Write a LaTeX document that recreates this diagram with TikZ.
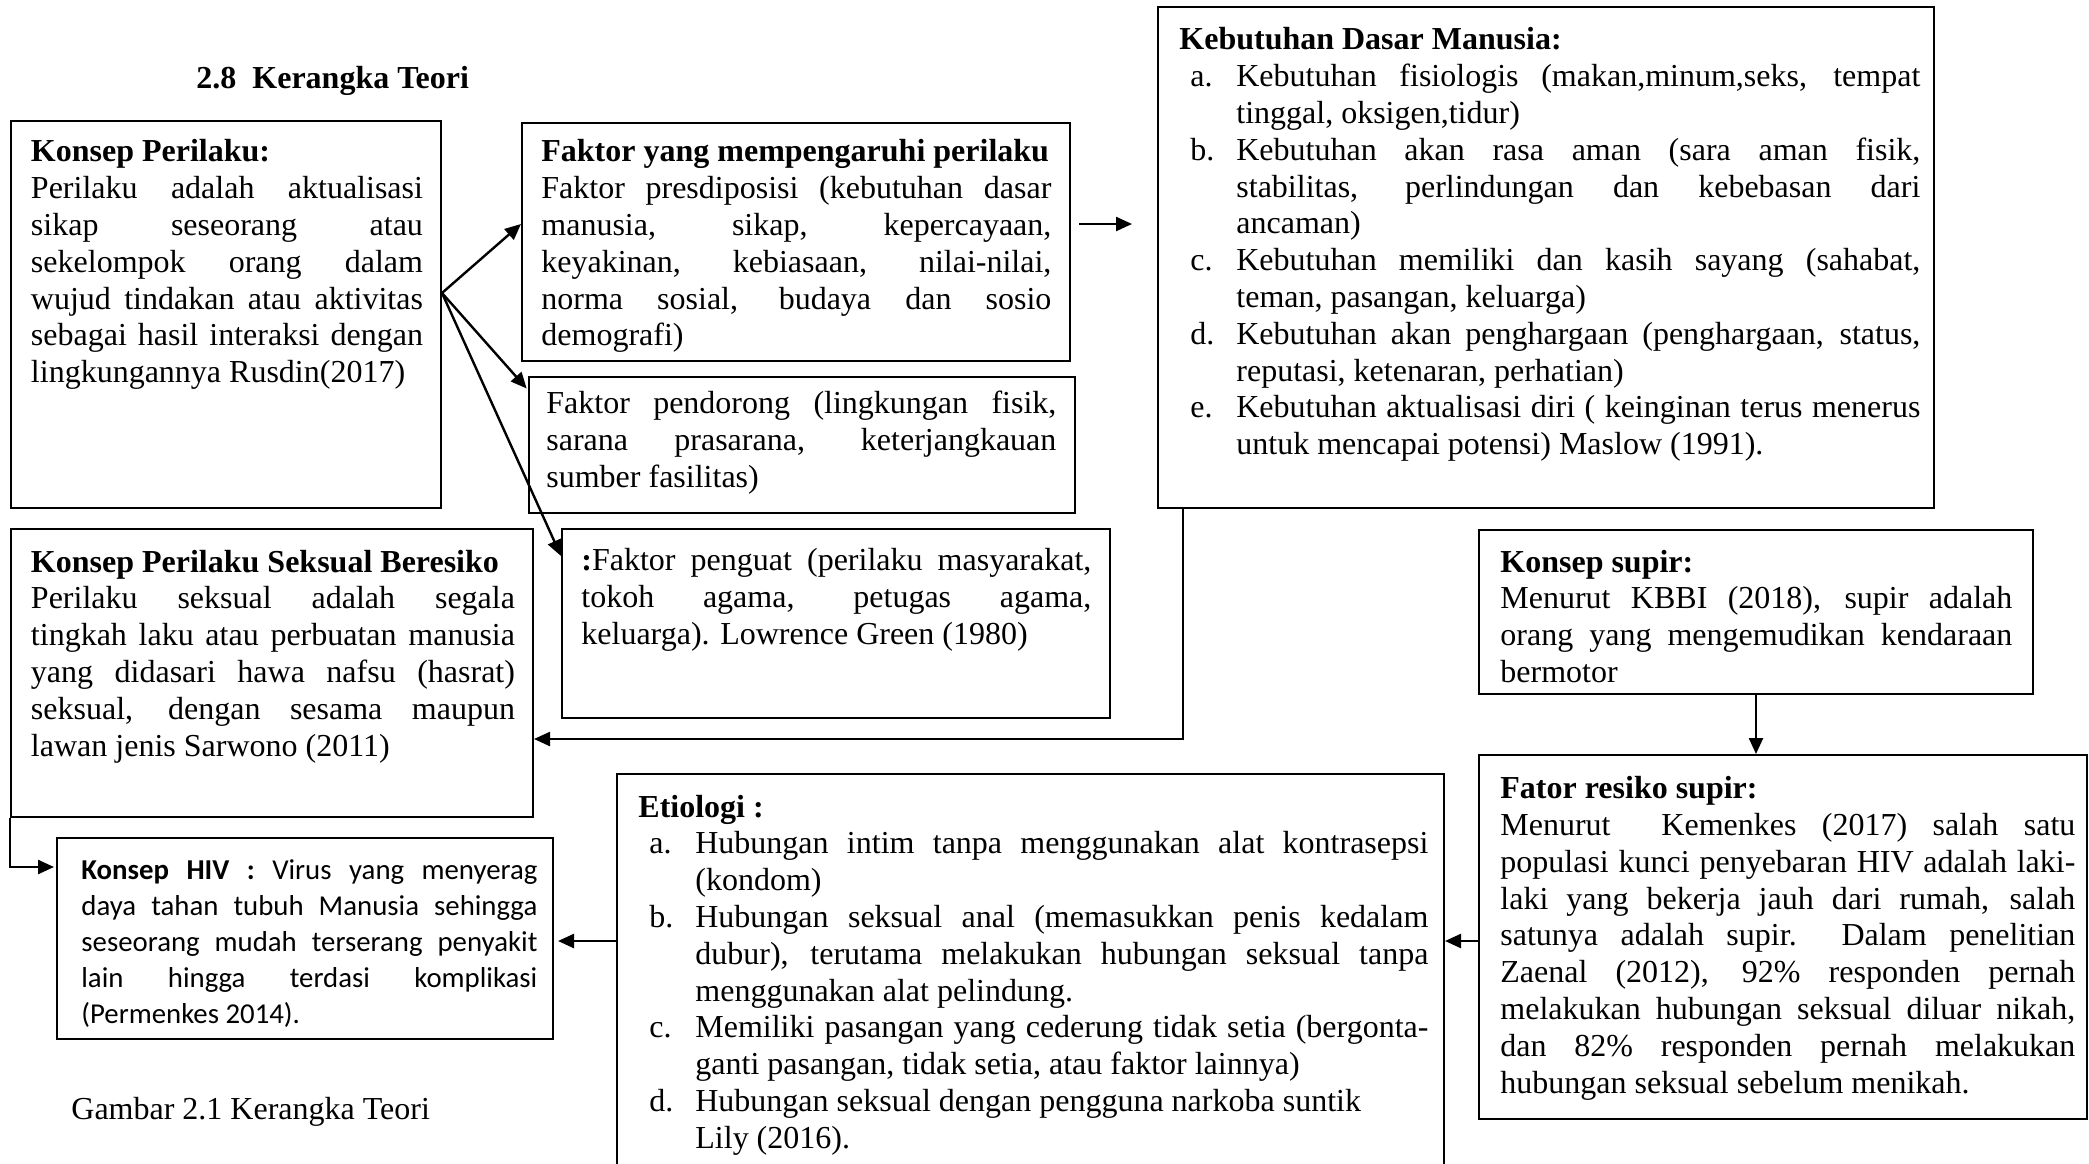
\documentclass[tikz,border=0pt]{standalone}
\usepackage{fontspec}
\setmainfont{Liberation Serif}
\newfontfamily\hivfont{Carlito}
\usetikzlibrary{arrows.meta,fit}
\setlength\parindent{0pt}
\newcommand\itm[1]{\par\hangindent=28.5pt\hangafter=1\noindent\hspace*{5.5pt}\makebox[23pt][l]{#1}}
\begin{document}
\begin{tikzpicture}[x=0.5pt,y=-0.5pt,
  box/.style={draw, line width=1pt, inner sep=0pt},
  txt/.style={anchor=north west, inner sep=0pt, align=justify, font=\fontsize{16}{18.4}\selectfont},
  hivtxt/.style={anchor=north west, inner sep=0pt, align=justify, font=\hivfont\fontsize{14.4}{18}\selectfont},
  lbl/.style={anchor=base west, inner sep=0pt, font=\fontsize{16}{18.4}\selectfont},
  arr/.style={line width=1.2pt, -{Triangle[length=8pt,width=7pt]}}]
\clip (0,0) rectangle (2089,1163);
\fill[white] (0,0) rectangle (2089,1163);

% title and caption
\node[lbl, font=\fontsize{16}{18.4}\selectfont\bfseries] (title) at (196,88) {2.8\ \ Kerangka Teori};
\node[lbl] (cap) at (71,1119) {Gambar 2.1 Kerangka Teori};

% boxes
\node[box, fit={(11,121)(441,508)}] (kp) {};
\node[box, fit={(522,123)(1070,361)}] (fak) {};
\node[box, fit={(529,377)(1075,513)}] (pd) {};
\node[box, fit={(562,529)(1110,718)}] (pg) {};
\node[box, fit={(1158,7)(1934,508)}] (kb) {};
\node[box, fit={(11,529)(533,817)}] (kpsb) {};
\node[box, fit={(57,838)(553,1039)}] (hiv) {};
\node[box, fit={(617,774)(1444,1180)}] (et) {};
\node[box, fit={(1479,530)(2033,694)}] (sp) {};
\node[box, fit={(1479,755)(2087,1119)}] (fr) {};

% texts
\node[txt, text width=196pt] (kpT) at (30.6,135.7) {\strut\textbf{Konsep Perilaku:}\par
Perilaku adalah aktualisasi\linebreak sikap seseorang atau\linebreak sekelompok orang dalam\linebreak wujud tindakan atau aktivitas\linebreak sebagai hasil interaksi dengan\linebreak lingkungannya Rusdin(2017)\par};

\node[txt, text width=255pt] (fakT) at (541,135.7) {\strut\textbf{Faktor yang mempengaruhi perilaku}\par
Faktor presdiposisi (kebutuhan dasar\linebreak manusia, sikap, kepercayaan,\linebreak keyakinan, kebiasaan, nilai-nilai,\linebreak norma sosial, budaya dan sosio\linebreak demografi)\par};

\node[txt, text width=255pt] (pdT) at (546,387.6) {\strut Faktor pendorong (lingkungan fisik,\linebreak sarana prasarana, keterjangkauan\linebreak sumber fasilitas)\par};

\node[txt, text width=255pt] (pgT) at (581,544.8) {\strut\textbf{:}Faktor penguat (perilaku masyarakat,\linebreak tokoh agama, petugas agama,\linebreak keluarga). Lowrence Green (1980)\par};

\node[txt, text width=370.5pt] (kbT) at (1179,23.8) {\strut\textbf{Kebutuhan Dasar Manusia:}
\itm{a.}Kebutuhan fisiologis (makan,minum,seks, tempat\linebreak tinggal, oksigen,tidur)
\itm{b.}Kebutuhan akan rasa aman (sara aman fisik,\linebreak stabilitas, perlindungan dan kebebasan dari\linebreak ancaman)
\itm{c.}Kebutuhan memiliki dan kasih sayang (sahabat,\linebreak teman, pasangan, keluarga)
\itm{d.}Kebutuhan akan penghargaan (penghargaan, status,\linebreak reputasi, ketenaran, perhatian)
\itm{e.}Kebutuhan aktualisasi diri ( keinginan terus menerus\linebreak untuk mencapai potensi) Maslow (1991).\par};

\node[txt, text width=242pt] (kpsbT) at (30.6,546) {\strut\textbf{Konsep Perilaku Seksual Beresiko}\par
Perilaku seksual adalah segala\linebreak tingkah laku atau perbuatan manusia\linebreak yang didasari hawa nafsu (hasrat)\linebreak seksual, dengan sesama maupun\linebreak lawan jenis Sarwono (2011)\par};

\node[hivtxt, text width=228pt] (hivT) at (81,854.2) {\strut\textbf{Konsep HIV :} Virus yang menyerag\linebreak daya tahan tubuh Manusia sehingga\linebreak seseorang mudah terserang penyakit\linebreak lain hingga terdasi komplikasi\linebreak (Permenkes 2014).\par};

\node[txt, text width=395pt] (etT) at (638,791) {\strut\textbf{Etiologi :}
\itm{a.}Hubungan intim tanpa menggunakan alat kontrasepsi\linebreak (kondom)
\itm{b.}Hubungan seksual anal (memasukkan penis kedalam\linebreak dubur), terutama melakukan hubungan seksual tanpa\linebreak menggunakan alat pelindung.
\itm{c.}Memiliki pasangan yang cederung tidak setia (bergonta-\linebreak ganti pasangan, tidak setia, atau faktor lainnya)
\itm{d.}Hubungan seksual dengan pengguna narkoba suntik\hfill\break Lily (2016).\par};

\node[txt, text width=256pt] (spT) at (1500,546) {\strut\textbf{Konsep supir:}\par
Menurut KBBI (2018), supir adalah\linebreak orang yang mengemudikan kendaraan\linebreak bermotor\par};

\node[txt, text width=287.5pt] (frT) at (1500,772.6) {\strut\textbf{Fator resiko supir:}\par
Menurut\ \ Kemenkes (2017) salah satu\linebreak populasi kunci penyebaran HIV adalah laki-\linebreak laki yang bekerja jauh dari rumah, salah\linebreak satunya adalah supir.\ \ Dalam penelitian\linebreak Zaenal (2012), 92\% responden pernah\linebreak melakukan hubungan seksual diluar nikah,\linebreak dan 82\% responden pernah melakukan\linebreak hubungan seksual sebelum menikah.\par};

% connectors
\coordinate (o) at (kp.east |- 0,293);
\draw[arr] (o) -- (fak.west |- 0,224);
\draw[arr, shorten >=1pt] (o) -- (pd.west |- 0,390);
\draw[arr] (o) -- (pg.west |- 0,556);
\draw[arr, shorten <=4pt, shorten >=12.5pt] (fak.east |- 0,224) -- (kb.west |- 0,224);
\draw[arr] (kb.south -| 1183,0) |- (kpsb.east |- 0,739);
\draw[arr, shorten >=1pt] (kpsb.south west) |- (hiv.west |- 0,867);
\draw[arr] (sp.south) -- (sp.south |- fr.north);
\draw[arr] (fr.west |- 0,941) -- (et.east |- 0,941);
\draw[arr, shorten >=2pt] (et.west |- 0,941) -- (hiv.east |- 0,941);
\end{tikzpicture}
\end{document}
